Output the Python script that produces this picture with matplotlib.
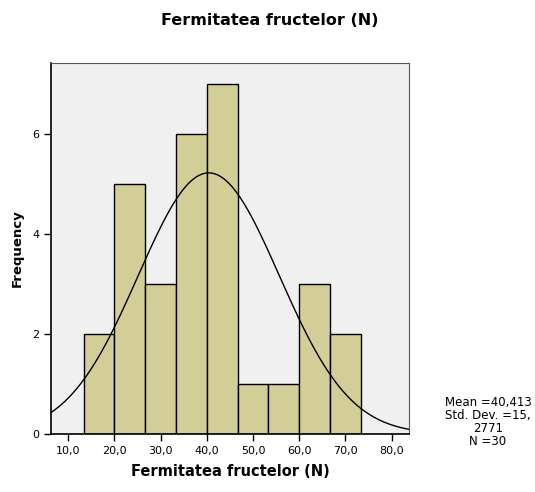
import numpy as np
import matplotlib.pyplot as plt
from matplotlib.ticker import FuncFormatter

# histogram bins (edges) and counts
bin_edges = [13.333, 20.0, 26.667, 33.333, 40.0, 46.667, 53.333, 60.0, 66.667, 73.333]
counts = [2, 5, 3, 6, 7, 1, 1, 3, 2]

mean = 40.413
std = 15.2771
n = 30

xticks = [10, 20, 30, 40, 50, 60, 70, 80]
yticks = [0, 2, 4, 6]

fig = plt.figure(figsize=(5.35, 4.92), dpi=100)
ax = fig.add_axes([0.0953, 0.1179, 0.669, 0.754])
ax.set_facecolor('#f0f0f0')

widths = np.diff(bin_edges)
ax.bar(bin_edges[:-1], counts, width=widths, align='edge',
       color='#d3ce97', edgecolor='black', linewidth=1.0, zorder=2)

# normal curve scaled to the histogram
bw = widths.mean()
x = np.linspace(6.25, 83.75, 400)
y = n * bw / (std * np.sqrt(2 * np.pi)) * np.exp(-0.5 * ((x - mean) / std) ** 2)
ax.plot(x, y, color='black', linewidth=1.0, zorder=3)

ax.set_xlim(6.25, 83.75)
ax.set_ylim(0, 7.42)
ax.set_xticks(xticks)
ax.set_yticks(yticks)
ax.xaxis.set_major_formatter(FuncFormatter(lambda v, p: ('%.1f' % v).replace('.', ',')))
ax.tick_params(labelsize=8, length=5, width=1, color='black')

for s in ['left', 'bottom']:
    ax.spines[s].set_linewidth(1.2)
for s in ['top', 'right']:
    ax.spines[s].set_color('#555555')

ax.set_xlabel('Fermitatea fructelor (N)', fontsize=10.5, fontweight='bold', labelpad=6)
ax.set_ylabel('Frequency', fontsize=9.5, fontweight='bold', labelpad=6)
fig.text(0.505, 0.959, 'Fermitatea fructelor (N)', ha='center', va='center',
         fontsize=11.5, fontweight='bold')

fig.text(0.912, 0.142, 'Mean =40,413\nStd. Dev. =15,\n2771\nN =30',
         ha='center', va='center', fontsize=8.5, linespacing=1.0)

fig.savefig('out.png', dpi=100)
